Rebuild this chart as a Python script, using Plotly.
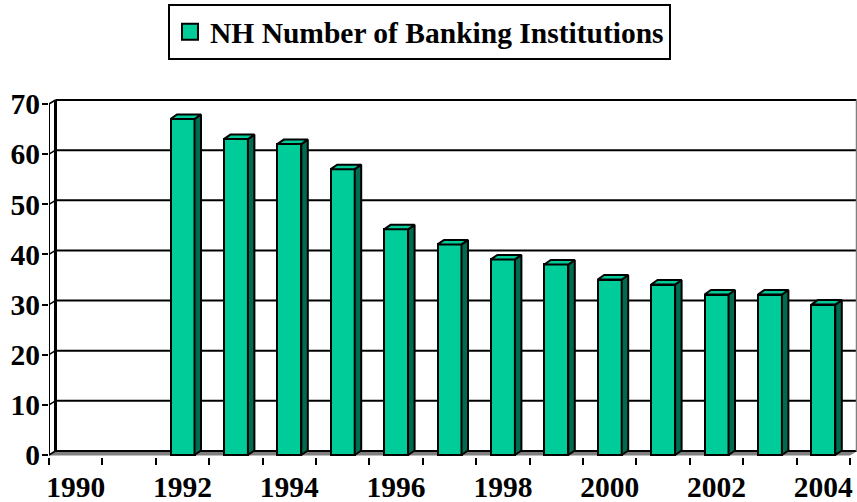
import plotly.graph_objects as go

# ---------------- data ----------------
years = list(range(1990, 2005))
institutions = [None, None, 67, 63, 62, 57, 45, 42, 39, 38, 35, 34, 32, 32, 30]
y_tick_values = [0, 10, 20, 30, 40, 50, 60, 70]
x_label_years = [1990, 1992, 1994, 1996, 1998, 2000, 2002, 2004]
series_name = "NH Number of Banking Institutions"

# ---------------- styling / geometry ----------------
W, H = 857, 502
FONT = "Times New Roman, Liberation Serif, serif"
GREEN = "#00CC99"
DARK = "#006B4F"
GRAY = "#808080"

x_left_px, x_right_px = 49, 850        # front plane x extent (pixels)
y_zero_px, y_70_px = 455, 104          # front plane y positions of 0 and 70
ppx = (x_right_px - x_left_px) / len(years)
ppy = (y_zero_px - y_70_px) / 70.0

x_lo = years[0] - 0.5
x_hi = x_lo + (W - x_left_px) / ppx
plot_top_px, plot_bot_px = 99, 457
y_lo = -(plot_bot_px - y_zero_px) / ppy
y_hi = (y_zero_px - plot_top_px) / ppy

# depth offsets (data units)
wall_dx, wall_dy = 6.5 / ppx, 4.0 / ppy
bar_dx, bar_dy = 6.5 / ppx, 4.5 / ppy
bar_w = 24 / ppx

front_left = years[0] - 0.5
front_right = years[-1] + 0.5

fig = go.Figure()

# front faces
fig.add_trace(go.Bar(
    x=years, y=institutions, width=bar_w,
    marker=dict(color=GREEN, line=dict(color="black", width=2)),
    showlegend=False, hoverinfo="x+y", name=series_name,
))

# side and top faces computed from the data
side_x, side_y, top_x, top_y = [], [], [], []
for yr, v in zip(years, institutions):
    if v is None:
        continue
    l, r = yr - bar_w / 2, yr + bar_w / 2
    side_x += [r, r + bar_dx, r + bar_dx, r, r, None]
    side_y += [0, bar_dy, v + bar_dy, v, 0, None]
    top_x += [l, l + bar_dx, r + bar_dx, r, l, None]
    top_y += [v, v + bar_dy, v + bar_dy, v, v, None]

fig.add_trace(go.Scatter(x=side_x, y=side_y, mode="lines", fill="toself",
                         fillcolor=DARK, line=dict(color="black", width=2),
                         showlegend=False, hoverinfo="skip"))
fig.add_trace(go.Scatter(x=top_x, y=top_y, mode="lines", fill="toself",
                         fillcolor=GREEN, line=dict(color="black", width=2),
                         showlegend=False, hoverinfo="skip"))

# legend proxy
fig.add_trace(go.Scatter(x=[None], y=[None], mode="markers", name=series_name,
                         marker=dict(symbol="square", size=16, color=GREEN,
                                     line=dict(color="black", width=2))))

# x tick marks at category boundaries (second axis)
fig.add_trace(go.Scatter(x=[x_lo], y=[None], xaxis="x2", showlegend=False,
                         hoverinfo="skip", mode="markers"))

shapes = []
# floor
shapes.append(dict(type="path", xref="x", yref="y", layer="below",
                   path=f"M{front_left},0 L{front_right},0 L{front_right+wall_dx},{wall_dy} "
                        f"L{front_left+wall_dx},{wall_dy} Z",
                   fillcolor=GRAY, line=dict(color=GRAY, width=1)))
# back wall gridlines and left wall diagonals
for v in y_tick_values:
    shapes.append(dict(type="line", xref="x", yref="y", layer="below",
                       x0=front_left + wall_dx, x1=front_right + wall_dx,
                       y0=v + wall_dy, y1=v + wall_dy,
                       line=dict(color="black", width=2)))
    shapes.append(dict(type="line", xref="x", yref="y", layer="below",
                       x0=front_left, x1=front_left + wall_dx,
                       y0=v, y1=v + wall_dy,
                       line=dict(color="black", width=1.5)))
# back wall left edge
shapes.append(dict(type="line", xref="x", yref="y", layer="below",
                   x0=front_left + wall_dx, x1=front_left + wall_dx,
                   y0=wall_dy, y1=70 + wall_dy, line=dict(color="black", width=3)))
# back wall right edge
shapes.append(dict(type="line", xref="x", yref="y", layer="below",
                   x0=front_right + wall_dx, x1=front_right + wall_dx,
                   y0=wall_dy, y1=70 + wall_dy, line=dict(color=GRAY, width=1.5)))
# front left axis
shapes.append(dict(type="line", xref="x", yref="y", layer="below",
                   x0=front_left, x1=front_left, y0=0, y1=70,
                   line=dict(color="black", width=2)))

tick_font = dict(family=FONT, size=29.5, color="black", weight="bold")

fig.update_layout(
    width=W, height=H,
    paper_bgcolor="white", plot_bgcolor="white",
    margin=dict(l=x_left_px, r=0, t=plot_top_px, b=H - plot_bot_px, autoexpand=False),
    shapes=shapes,
    bargap=0,
    xaxis=dict(range=[x_lo, x_hi], tickmode="array", tickvals=x_label_years,
               ticktext=[str(y) for y in x_label_years], ticks="",
               showgrid=False, zeroline=False, showline=False,
               tickfont=tick_font, ticklabelstandoff=9),
    xaxis2=dict(range=[x_lo, x_hi], overlaying="x", anchor="y", side="bottom",
                tickmode="array", tickvals=[y - 0.5 for y in years] + [years[-1] + 0.5],
                ticks="outside", ticklen=7, tickwidth=2, tickcolor="black",
                showticklabels=False, showgrid=False, zeroline=False, showline=False),
    yaxis=dict(range=[y_lo, y_hi], tickmode="array", tickvals=y_tick_values,
               ticks="outside", ticklen=6, tickwidth=2, tickcolor="black",
               showgrid=False, zeroline=False, showline=False, tickfont=tick_font,
               ticklabelstandoff=-4),
    legend=dict(x=(168 - x_left_px) / (W - x_left_px),
                y=(plot_bot_px - 4) / (plot_bot_px - plot_top_px),
                xanchor="left", yanchor="top",
                bordercolor="black", borderwidth=2, bgcolor="white",
                font=dict(family=FONT, size=29.5, color="black", weight="bold")),
    showlegend=True,
)

fig.write_html("out.html", config={"displayModeBar": False},
               post_script="document.body.style.margin='0';document.body.style.overflow='hidden';")
